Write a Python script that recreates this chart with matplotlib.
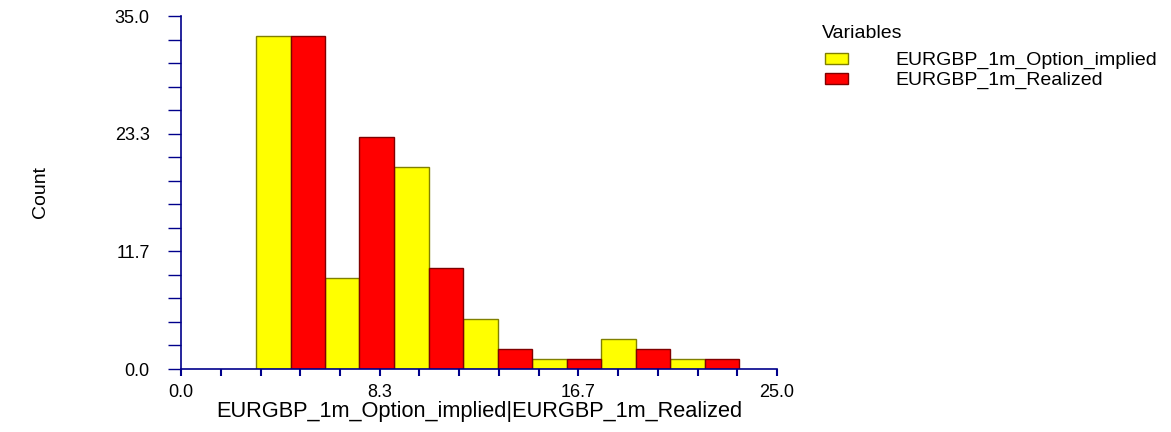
import matplotlib
matplotlib.use("Agg")
import matplotlib.pyplot as plt
from matplotlib.patches import Patch
import numpy as np

plt.rcParams['font.family'] = ['Liberation Sans', 'DejaVu Sans']

# ---------------- Data ----------------
series_names = ["EURGBP_1m_Option_implied", "EURGBP_1m_Realized"]
bin_edges = [3.15, 6.04, 8.93, 11.83, 14.72, 17.62, 20.51, 23.41]
implied_counts = [33, 9, 20, 5, 1, 3, 1]
realized_counts = [33, 23, 10, 2, 1, 2, 1]
x_ticks = [0.0, 8.3, 16.7, 25.0]
y_ticks = [0.0, 11.7, 23.3, 35.0]

face_colors = ["#ffff00", "#ff0000"]
edge_colors = ["#808000", "#800000"]
axis_color = "#00008b"

# ---------------- Figure ----------------
fig = plt.figure(figsize=(11.71, 4.32), dpi=100)
ax = fig.add_axes([0.1546, 0.1458, 0.509, 0.817])

edges = np.array(bin_edges)
lefts = edges[:-1]
widths = np.diff(edges) / 2
ax.bar(lefts, implied_counts, width=widths, align='edge',
       color=face_colors[0], edgecolor=edge_colors[0], linewidth=1.0)
ax.bar(lefts + widths, realized_counts, width=widths, align='edge',
       color=face_colors[1], edgecolor=edge_colors[1], linewidth=1.0)

ax.set_xlim(0, 25)
ax.set_ylim(0, 35)
ax.set_xticks(np.linspace(0, 25, 4))
ax.set_xticklabels([f"{v:.1f}" for v in x_ticks])
ax.set_xticks(np.linspace(0, 25, 16), minor=True)
ax.set_yticks(np.linspace(0, 35, 4))
ax.set_yticklabels([f"{v:.1f}" for v in y_ticks])
ax.set_yticks(np.linspace(0, 35, 16), minor=True)

for side in ["top", "right"]:
    ax.spines[side].set_visible(False)
for side in ["left", "bottom"]:
    ax.spines[side].set_color(axis_color)
    ax.spines[side].set_linewidth(1.2)

ax.tick_params(axis='x', which='both', direction='out', length=5, width=1.5,
               color=axis_color, labelsize=13, pad=6)
ax.tick_params(axis='y', which='both', direction='out', length=9.5, width=1.0,
               color=axis_color, labelsize=13, pad=13)

ax.set_xlabel("|".join(series_names), fontsize=15.7, labelpad=0)
fig.text(40 / 1171, 1 - 192 / 432, "Count", rotation=90, fontsize=14,
         ha='center', va='center')

# legend: title drawn separately so the gap below it matches
fig.text(822 / 1171, 1 - 33 / 432, "Variables", fontsize=14,
         ha='left', va='center')
handles = [Patch(facecolor=face_colors[i], edgecolor=edge_colors[i], linewidth=1.0)
           for i in range(2)]
leg = fig.legend(handles, series_names, loc='upper left',
                 bbox_to_anchor=(825 / 1171, 1 - 52 / 432), frameon=False,
                 fontsize=14, handlelength=1.2, handleheight=0.5,
                 handletextpad=2.4, labelspacing=0.15,
                 borderaxespad=0, borderpad=0)

fig.savefig("out.png", dpi=100)
